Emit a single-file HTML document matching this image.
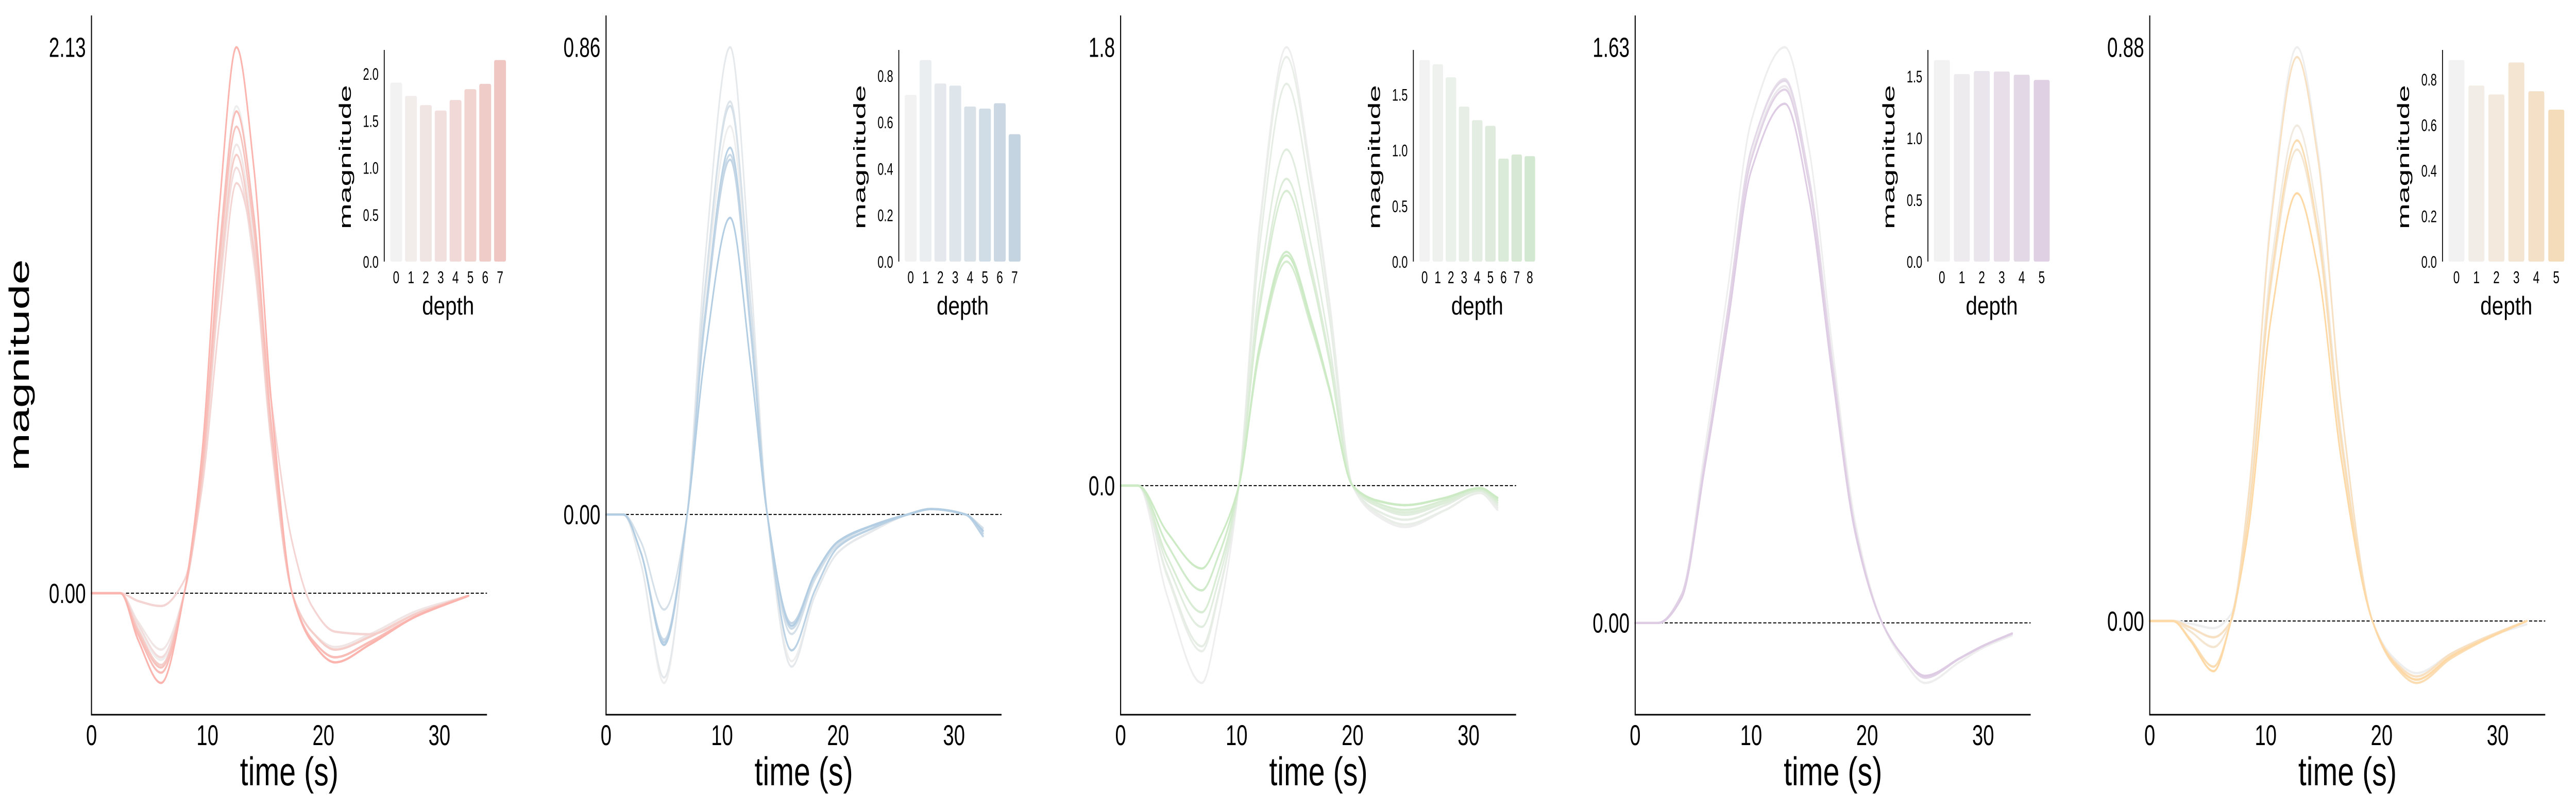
<!DOCTYPE html>
<html><head><meta charset="utf-8">
<style>
html,body{margin:0;padding:0;background:#fff;overflow:hidden;width:100%;height:100%;}
svg{display:block;font-family:"Liberation Sans",sans-serif;width:100vw;height:100vh;}
</style></head>
<body>
<svg id="fig" viewBox="0 0 7321 1575" preserveAspectRatio="none" xmlns="http://www.w3.org/2000/svg"></svg>
<script>
// ---------- data ----------
const panelTimes1 = [0,2.5,4,6,8,9.5,11,12.5,14,15.5,17.3,19,21,24,28,32.5];
const panelSeries1 = [
 [0,0,-0.13,-0.26,0,0.48,1.33,1.90,1.48,0.67,0,-0.15,-0.22,-0.17,-0.08,-0.01],
 [0,0,-0.11,-0.22,0,0.44,1.23,1.75,1.37,0.61,0,-0.15,-0.21,-0.16,-0.07,-0.01],
 [0,0,-0.12,-0.25,0,0.42,1.16,1.66,1.29,0.58,0,-0.15,-0.22,-0.17,-0.08,-0.01],
 [0,0,-0.03,-0.05,0.05,0.40,1.05,1.60,1.35,0.75,0.20,-0.05,-0.15,-0.16,-0.08,-0.01],
 [0,0,-0.14,-0.28,0,0.43,1.20,1.71,1.33,0.60,0,-0.15,-0.22,-0.17,-0.08,-0.01],
 [0,0,-0.15,-0.29,0,0.46,1.27,1.82,1.42,0.64,0,-0.18,-0.25,-0.19,-0.09,-0.01],
 [0,0,-0.16,-0.31,0,0.47,1.32,1.88,1.47,0.66,0,-0.18,-0.25,-0.19,-0.09,-0.01],
 [0,0,-0.18,-0.35,0,0.53,1.49,2.13,1.66,0.75,0,-0.19,-0.27,-0.20,-0.09,-0.01]
];
const panelBars1 = [1.905,1.763,1.666,1.608,1.72,1.835,1.892,2.146];

const panelTimes2 = [0,1.5,3,5,7,8.5,10.7,12.5,13.9,16,18,20,23,26,28,31,32.5];
const panelSeries2 = [
 [0,0,-0.09,-0.31,0,0.39,0.715,0.36,0,-0.27,-0.15,-0.07,-0.03,0,0.01,0,-0.03],
 [0,0,-0.09,-0.30,0,0.46,0.86,0.43,0,-0.28,-0.15,-0.07,-0.03,0,0.01,0,-0.03],
 [0,0,-0.07,-0.24,0,0.41,0.76,0.38,0,-0.25,-0.14,-0.06,-0.025,0,0.01,0,-0.03],
 [0,0,-0.05,-0.175,0,0.41,0.752,0.38,0,-0.22,-0.12,-0.055,-0.02,0,0.01,0,-0.025],
 [0,0,-0.07,-0.23,0,0.36,0.662,0.33,0,-0.21,-0.115,-0.05,-0.02,0,0.01,0,-0.03],
 [0,0,-0.07,-0.24,0,0.35,0.653,0.33,0,-0.20,-0.11,-0.05,-0.02,0,0.01,0,-0.035],
 [0,0,-0.07,-0.235,0,0.36,0.675,0.34,0,-0.25,-0.14,-0.06,-0.025,0,0.01,0,-0.04],
 [0,0,-0.07,-0.24,0,0.29,0.546,0.27,0,-0.205,-0.11,-0.05,-0.02,0,0.01,0,-0.03]
];
const panelBars2 = [0.717,0.867,0.766,0.757,0.667,0.658,0.681,0.548];

const panelTimes3 = [0,1.5,4,7,8.5,10.2,12,14.3,16.5,18,20,22,24.5,28,31,32.5];
const panelSeries3 = [
 [0,0,-0.45,-0.81,-0.53,0,1.08,1.80,1.26,0.76,0,-0.12,-0.17,-0.10,-0.03,-0.10],
 [0,0,-0.37,-0.68,-0.44,0,1.06,1.76,1.23,0.74,0,-0.11,-0.16,-0.10,-0.03,-0.09],
 [0,0,-0.36,-0.66,-0.43,0,0.99,1.65,1.16,0.69,0,-0.10,-0.14,-0.08,-0.02,-0.08],
 [0,0,-0.32,-0.58,-0.38,0,0.83,1.38,0.97,0.58,0,-0.08,-0.12,-0.07,-0.02,-0.07],
 [0,0,-0.29,-0.52,-0.34,0,0.76,1.26,0.88,0.53,0,-0.08,-0.11,-0.07,-0.02,-0.07],
 [0,0,-0.29,-0.52,-0.34,0,0.73,1.21,0.85,0.51,0,-0.07,-0.10,-0.06,-0.015,-0.06],
 [0,0,-0.24,-0.43,-0.28,0,0.55,0.92,0.64,0.39,0,-0.06,-0.08,-0.05,-0.01,-0.06],
 [0,0,-0.24,-0.43,-0.28,0,0.58,0.96,0.67,0.40,0,-0.06,-0.08,-0.05,-0.01,-0.05],
 [0,0,-0.19,-0.34,-0.22,0,0.57,0.945,0.66,0.40,0,-0.06,-0.08,-0.05,-0.01,-0.05]
];
const panelBars3 = [1.81,1.772,1.655,1.392,1.27,1.219,0.924,0.961,0.947];

const panelTimes4 = [0,2,4,6,8,10,12.9,15,17,19,21.3,23,25,28,30,32.5];
const panelSeries4 = [
 [0,0,0.08,0.49,0.95,1.42,1.63,1.34,0.78,0.28,0,-0.10,-0.17,-0.11,-0.07,-0.035],
 [0,0,0.08,0.46,0.88,1.32,1.52,1.25,0.73,0.26,0,-0.09,-0.155,-0.10,-0.065,-0.03],
 [0,0,0.08,0.46,0.89,1.34,1.54,1.26,0.74,0.26,0,-0.09,-0.155,-0.10,-0.065,-0.03],
 [0,0,0.08,0.46,0.89,1.34,1.535,1.26,0.74,0.26,0,-0.09,-0.155,-0.10,-0.065,-0.03],
 [0,0,0.08,0.45,0.88,1.31,1.51,1.24,0.72,0.26,0,-0.09,-0.155,-0.10,-0.065,-0.03],
 [0,0,0.07,0.44,0.85,1.28,1.47,1.20,0.70,0.25,0,-0.09,-0.15,-0.10,-0.065,-0.03]
];
const panelBars4 = [1.631,1.517,1.542,1.538,1.512,1.47];

const panelTimes5 = [0,2,3.5,5.5,7,8.5,10.5,12.7,14.5,16.5,19.2,21,23,26,29,32.5];
const panelSeries5 = [
 [0,0,-0.004,-0.011,0.01,0.19,0.63,0.88,0.72,0.33,0,-0.056,-0.08,-0.05,-0.025,-0.005],
 [0,0,-0.01,-0.025,0,0.17,0.55,0.76,0.62,0.29,0,-0.06,-0.085,-0.05,-0.025,0],
 [0,0,-0.016,-0.04,0,0.16,0.52,0.723,0.59,0.27,0,-0.063,-0.09,-0.054,-0.027,0],
 [0,0,-0.01,-0.025,0,0.19,0.62,0.865,0.71,0.33,0,-0.06,-0.085,-0.05,-0.025,0],
 [0,0,-0.028,-0.07,0,0.16,0.53,0.737,0.60,0.28,0,-0.066,-0.095,-0.057,-0.028,0],
 [0,0,-0.03,-0.077,0,0.14,0.47,0.656,0.54,0.25,0,-0.063,-0.09,-0.054,-0.027,0]
];
const panelBars5 = [0.885,0.773,0.734,0.874,0.748,0.667];

const xTickValues = [0,10,20,30];
const xTickLabels = ["0","10","20","30"];
const mainYTickLabels = [["0.00","2.13"],["0.00","0.86"],["0.0","1.8"],["0.00","1.63"],["0.00","0.88"]];
const insetYTicks = [[0,0.5,1.0,1.5,2.0],[0,0.2,0.4,0.6,0.8],[0,0.5,1.0,1.5],[0,0.5,1.0,1.5],[0,0.2,0.4,0.6,0.8]];
const insetYTickLabels = [["0.0","0.5","1.0","1.5","2.0"],["0.0","0.2","0.4","0.6","0.8"],["0.0","0.5","1.0","1.5"],["0.0","0.5","1.0","1.5"],["0.0","0.2","0.4","0.6","0.8"]];

// ---------- styling ----------
const lineColors = ["#fbb4ae","#b3cde3","#ccebc5","#decbe4","#fed9a6"];
const barColors = ["#f0c6c2","#c4d4e1","#d3e8d0","#dfd1e3","#f4dcbb"];
const panels = [
 {times:panelTimes1, series:panelSeries1, bars:panelBars1},
 {times:panelTimes2, series:panelSeries2, bars:panelBars2},
 {times:panelTimes3, series:panelSeries3, bars:panelBars3},
 {times:panelTimes4, series:panelSeries4, bars:panelBars4},
 {times:panelTimes5, series:panelSeries5, bars:panelBars5}
];
const NS = "http://www.w3.org/2000/svg";
const svg = document.getElementById("fig");

function el(tag, attrs, parent){
  const e = document.createElementNS(NS, tag);
  for (const k in attrs) e.setAttribute(k, attrs[k]);
  (parent||svg).appendChild(e);
  return e;
}
function txt(x, y, attrs, parent, rot){
  attrs.x = 0; attrs.y = 0; attrs.fill = "#000";
  attrs.transform = "translate("+x+","+y+")" + (rot ? " rotate("+rot+")" : "");
  return el("text", attrs, parent);
}
function hex(c){return [1,3,5].map(i=>parseInt(c.substr(i,2),16));}
function mix(a,b,t){const A=hex(a),B=hex(b);return "rgb("+A.map((v,i)=>Math.round(v+(B[i]-v)*t)).join(",")+")";}

function monotonePath(xs, ys){
  const n = xs.length, d=[], m=[];
  for (let i=0;i<n-1;i++) d.push((ys[i+1]-ys[i])/(xs[i+1]-xs[i]));
  m[0]=d[0]; m[n-1]=d[n-2];
  for (let i=1;i<n-1;i++){
    if (d[i-1]*d[i]<=0) m[i]=0;
    else { const w1=2*(xs[i+1]-xs[i])+(xs[i]-xs[i-1]), w2=(xs[i+1]-xs[i])+2*(xs[i]-xs[i-1]);
      m[i]=(w1+w2)/(w1/d[i-1]+w2/d[i]); }
  }
  let p = "M"+xs[0].toFixed(1)+","+ys[0].toFixed(1);
  for (let i=0;i<n-1;i++){
    const h=(xs[i+1]-xs[i])/3;
    p += " C"+(xs[i]+h).toFixed(1)+","+(ys[i]+m[i]*h).toFixed(1)+" "+(xs[i+1]-h).toFixed(1)+","+(ys[i+1]-m[i+1]*h).toFixed(1)+" "+xs[i+1].toFixed(1)+","+ys[i+1].toFixed(1);
  }
  return p;
}

const PLOT_TOP = 30, PLOT_BOT = 1388, PLOT_W = 1124;
const X_MAX = 34.1;
panels.forEach((P, k) => {
  const x0 = 260 + k*1462.4;
  const g = el("g", {});
  
  
  let mn=Infinity, mx=-Infinity;
  P.series.forEach(s=>s.forEach(v=>{mn=Math.min(mn,v);mx=Math.max(mx,v);}));
  const R = mx-mn, ylo = mn-0.05*R, yhi = mx+0.05*R;
  const xs = t => x0 + t/X_MAX*PLOT_W;
  const ys = v => PLOT_BOT - (v-ylo)/(yhi-ylo)*(PLOT_BOT-PLOT_TOP);

  const zl = el("line",{x1:x0,x2:x0+PLOT_W,y1:ys(0),y2:ys(0),stroke:"#000","stroke-width":2,"stroke-dasharray":"9,5"},g);
  
  

  const n = P.series.length;
  P.series.forEach((s,i)=>{
    const path = el("path",{d:monotonePath(P.times.map(xs), s.map(ys)),fill:"none",stroke:mix("#eeeeee",lineColors[k],i/(n-1)),"stroke-width":4.5,"stroke-linejoin":"round","stroke-linecap":"round"},g);
    
    
  });

  const ya = el("line",{x1:x0,x2:x0,y1:PLOT_TOP,y2:PLOT_BOT,stroke:"#000","stroke-width":3},g);
  
  
  const xa = el("line",{x1:x0-1.5,x2:x0+PLOT_W,y1:PLOT_BOT,y2:PLOT_BOT,stroke:"#000","stroke-width":3},g);
  
  

  xTickValues.forEach((t,j)=>{
    const tx = txt(xs(t), 1447, {"font-size":56,"text-anchor":"middle"}, g);
    tx.textContent = xTickLabels[j];
    
    
  });
  [0, mx].forEach((v,j)=>{
    const ty = txt(x0-16, ys(v)+19, {"font-size":54,"text-anchor":"end"}, g);
    ty.textContent = mainYTickLabels[k][j];
    
    
  });
  const xl = txt(x0+PLOT_W/2, 1525, {"font-size":78,"text-anchor":"middle",textLength:280,lengthAdjust:"spacingAndGlyphs"}, g);
  xl.textContent = "time (s)";
  
  
  if (k===0){
    const yl = txt(82, 709, {"font-size":80,"text-anchor":"middle",textLength:411,lengthAdjust:"spacingAndGlyphs"}, g, -90);
    yl.textContent = "magnitude";
    
    
  }

  const ig = el("g",{},g);
  
  
  const ax = x0 + 832, iTop = 97, iBot = 508;
  const bmax = Math.max(...P.bars) * 1.05;
  const by = v => iBot - v/bmax*(iBot-iTop);
  const nb = P.bars.length;
  const barStart = ax + 17, barEnd = x0 + 1178;
  const unit = (barEnd-barStart)/(nb-0.2);
  const bx = i => barStart + i*unit;
  P.bars.forEach((v,i)=>{
    const r = el("rect",{x:bx(i),y:by(v),width:unit*0.8,height:iBot-by(v),rx:4,ry:4,fill:mix("#f2f2f2",barColors[k],i/(nb-1))},ig);
    
    
    const lt = txt(bx(i)+unit*0.4, 550, {"font-size":33,"text-anchor":"middle"}, ig);
    lt.textContent = String(i);
    
    
  });
  const ia = el("line",{x1:ax,x2:ax,y1:iTop,y2:iBot,stroke:"#000","stroke-width":2.5},ig);
  
  
  insetYTicks[k].forEach((v,j)=>{
    const t = txt(ax-16, by(v)+12, {"font-size":32,"text-anchor":"end"}, ig);
    t.textContent = insetYTickLabels[k][j];
    
    
  });
  const dl = txt((barStart+barEnd)/2, 611, {"font-size":50,"text-anchor":"middle",textLength:148,lengthAdjust:"spacingAndGlyphs"}, ig);
  dl.textContent = "depth";
  
  
  const ml = txt(ax-95, 305, {"font-size":48,"text-anchor":"middle",textLength:280,lengthAdjust:"spacingAndGlyphs"}, ig, -90);
  ml.textContent = "magnitude";
  
  
});
</script>
</body></html>
